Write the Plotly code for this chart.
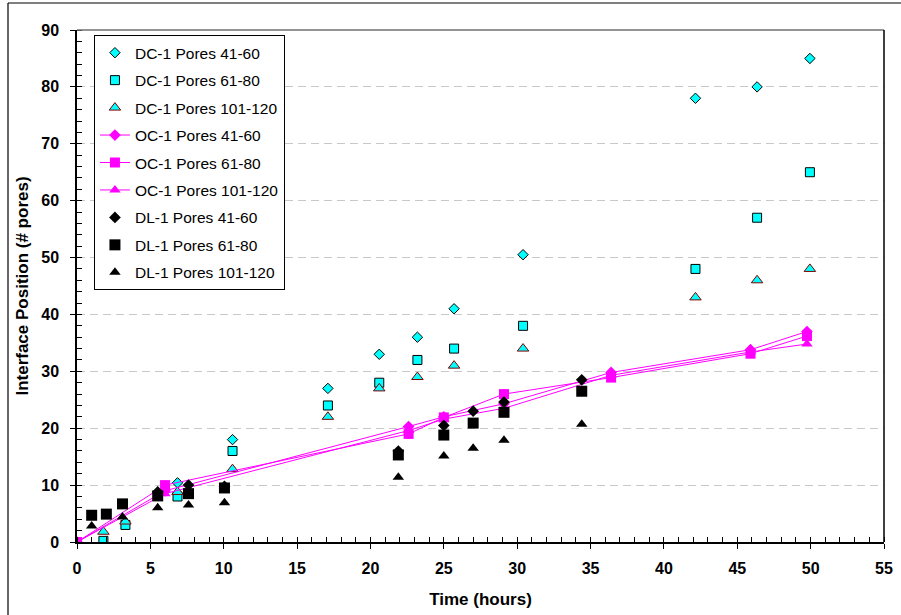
import plotly.graph_objects as go

# ---- data ----
dc_t = [1.8, 3.3, 6.85, 10.6, 17.1, 20.6, 23.2, 25.7, 30.4, 42.15, 46.35, 49.95]
dc_41_60_t = [6.85, 10.6, 17.1, 20.6, 23.2, 25.7, 30.4, 42.15, 46.35, 49.95]
dc_41_60 = [10.4, 18, 27, 33, 36, 41, 50.5, 78, 80, 85]
dc_61_80 = [0.2, 3.0, 8, 16, 24, 28, 32, 34, 38, 48, 57, 65]
dc_101_120 = [1.8, 3.6, 8.8, 12.8, 22, 27, 29, 31, 34, 43, 46, 48]

oc_t = [0, 6.0, 22.6, 25.0, 29.1, 36.4, 45.9, 49.75]
oc_41_60 = [0, 9.0, 20.3, 22.0, 24.3, 29.8, 33.8, 37.0]
oc_61_80 = [0, 10.0, 19.0, 21.9, 26.0, 28.9, 33.1, 36.2]
oc_101_120 = [0, 8.5, 19.6, 21.6, 23.5, 29.3, 33.4, 34.8]

dl_41_60_t = [5.5, 7.6, 10.05, 21.9, 25.0, 27.0, 29.1, 34.4]
dl_41_60 = [8.8, 10.0, 9.8, 16.0, 20.5, 23.0, 24.6, 28.5]
dl_61_80_t = [1.0, 2.0, 3.1, 5.5, 7.6, 10.05, 21.9, 25.0, 27.0, 29.1, 34.4]
dl_61_80 = [4.7, 4.9, 6.7, 8.1, 8.5, 9.5, 15.3, 18.8, 20.9, 22.8, 26.5]
dl_101_120_t = [1.0, 3.1, 5.5, 7.6, 10.05, 21.9, 25.0, 27.0, 29.1, 34.4]
dl_101_120 = [2.8, 4.4, 6.0, 6.5, 6.9, 11.4, 15.1, 16.5, 17.9, 20.7]

x_ticks = list(range(0, 56, 5))
y_ticks = list(range(0, 91, 10))

FONT = "Liberation Sans, Arial, sans-serif"
CYAN = "#00FFFF"
MAG = "#FF00FF"

fig = go.Figure()

def add(name, x, y, mode, symbol, color, size, line_color=None, lw=0):
    tr = dict(x=x, y=y, name=name, mode=mode, legendgroup=name,
              marker=dict(symbol=symbol, color=color, size=size,
                          line=dict(color=line_color or color, width=lw)))
    if "lines" in mode:
        tr["line"] = dict(color=color, width=1)
    fig.add_trace(go.Scatter(**tr))

add("DC-1 Pores 41-60", dc_41_60_t, dc_41_60, "markers", "diamond", CYAN, 8, "#000000", 1)
add("DC-1 Pores 61-80", dc_t, dc_61_80, "markers", "square", CYAN, 9, "#000000", 1)
add("DC-1 Pores 101-120", dc_t, dc_101_120, "markers", "triangle-up", CYAN, 10, "#800000", 1)
add("OC-1 Pores 41-60", oc_t, oc_41_60, "lines+markers", "diamond", MAG, 9)
add("OC-1 Pores 61-80", oc_t, oc_61_80, "lines+markers", "square", MAG, 10)
add("OC-1 Pores 101-120", oc_t, oc_101_120, "lines+markers", "triangle-up", MAG, 10)
add("DL-1 Pores 41-60", dl_41_60_t, dl_41_60, "markers", "diamond", "#000000", 9)
add("DL-1 Pores 61-80", dl_61_80_t, dl_61_80, "markers", "square", "#000000", 11)
add("DL-1 Pores 101-120", dl_101_120_t, dl_101_120, "markers", "triangle-up", "#000000", 10)

fig.update_layout(
    width=901, height=615,
    margin=dict(l=77, r=17, t=30, b=73),
    paper_bgcolor="white", plot_bgcolor="white",
    font=dict(family=FONT, color="black"),
    showlegend=True,
    legend=dict(x=0.021, y=0.99, xanchor="left", yanchor="top",
                bgcolor="white", bordercolor="black", borderwidth=1,
                font=dict(family=FONT, size=15.5, color="black"),
                traceorder="grouped", tracegroupgap=4.3),
    xaxis=dict(range=[0, 55], tickvals=x_ticks, showgrid=False, zeroline=False,
               automargin=False,
               showline=True, linecolor="black", linewidth=1.5,
               ticks="outside", ticklen=5, tickcolor="black", tickwidth=1,
               minor=dict(dtick=1, ticks="inside", ticklen=5, tickcolor="black", showgrid=False),
               tickfont=dict(family=FONT, size=16, color="black", weight="bold"),
               ticklabelstandoff=6,
               title=dict(text="<b>Time (hours)</b>", font=dict(family=FONT, size=17, color="black"), standoff=17)),
    yaxis=dict(range=[0, 90], tickvals=y_ticks, showgrid=True, gridcolor="#C8C8C8", gridwidth=1,
               griddash="8px,5px", zeroline=False, automargin=False,
               showline=True, linecolor="black", linewidth=1.5,
               ticks="outside", ticklen=5, tickcolor="black", tickwidth=1,
               minor=dict(dtick=2, ticks="inside", ticklen=5, tickcolor="black", showgrid=False),
               tickfont=dict(family=FONT, size=16, color="black", weight="bold"),
               ticklabelstandoff=8,
               title=dict(text="<b>Interface Position (# pores)</b>", font=dict(family=FONT, size=17, color="black"), standoff=8)),
    shapes=[
        dict(type="line", xref="paper", yref="paper", x0=0, x1=1, y0=1, y1=1,
             line=dict(color="#707070", width=1.5)),
        dict(type="line", xref="paper", yref="paper", x0=1, x1=1, y0=0, y1=1,
             line=dict(color="black", width=1.5)),
        dict(type="line", xref="paper", yref="paper", x0=-0.0855, x1=-0.0855, y0=-0.2, y1=1.0527,
             line=dict(color="black", width=1.2)),
        dict(type="line", xref="paper", yref="paper", x0=-0.0855, x1=1.1, y0=1.0527, y1=1.0527,
             line=dict(color="black", width=1.2)),
    ],
)

fig.write_html("out.html")
